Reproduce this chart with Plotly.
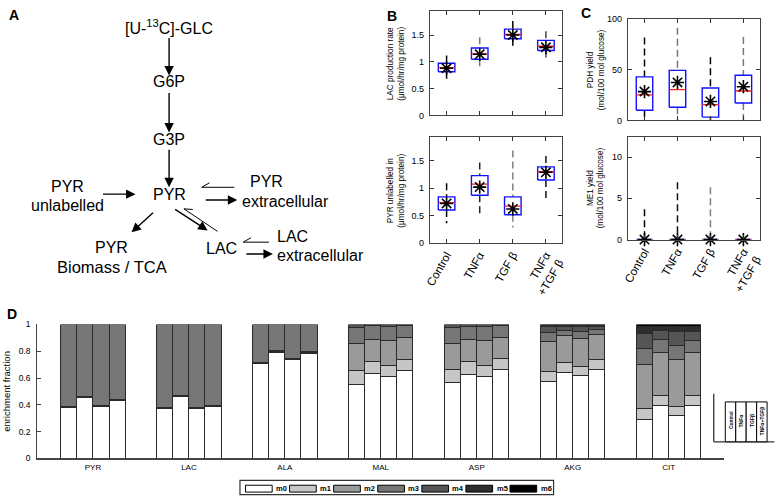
import math
import plotly.graph_objects as go

W, H = 778, 501
def px(x): return x / W
def py(y): return 1 - y / H

FONT = "Liberation Sans, Arial, sans-serif"

# ---------------- data ----------------
conditions = ["Control", "TNFα", "TGF β", "TNFα<br>+TGF β"]
cond_short = ["Control", "TNFα", "TGFβ", "TNFα+TGFβ"]

# B top: LAC production rate (umol/hr/mg protein)
lac_q1 = [0.816, 1.048, 1.43, 1.21]
lac_med = [0.89, 1.147, 1.51, 1.29]
lac_q3 = [0.974, 1.257, 1.61, 1.40]
lac_lo = [0.67, 0.91, 1.26, 1.08]
lac_hi = [1.12, 1.46, 1.76, 1.57]
lac_mean = [0.88, 1.14, 1.50, 1.27]

# B bottom: PYR unlabelled in (umol/hr/mg protein)
pyr_q1 = [0.60, 0.87, 0.515, 1.15]
pyr_med = [0.735, 1.075, 0.67, 1.30]
pyr_q3 = [0.84, 1.23, 0.84, 1.39]
pyr_lo = [0.36, 0.48, 0.28, 0.81]
pyr_hi = [1.09, 1.47, 1.69, 1.59]
pyr_mean = [0.72, 1.02, 0.62, 1.29]

# C top: PDH yield (mol/100 mol glucose)
pdh_q1 = [10.0, 12.9, 3.2, 17.0]
pdh_med = [25.1, 30.2, 15.4, 28.9]
pdh_q3 = [42.8, 49.2, 31.8, 44.4]
pdh_lo = [0.0, 0.0, 0.0, 0.0]
pdh_hi = [81.4, 91.0, 62.0, 82.0]
pdh_mean = [28.3, 37.3, 18.6, 33.1]

# C bottom: ME1 yield (mol/100 mol glucose)
me1_q1 = [0.0, 0.0, 0.0, 0.0]
me1_med = [0.0, 0.0, 0.0, 0.0]
me1_q3 = [0.0, 0.0, 0.0, 0.0]
me1_lo = [0.0, 0.0, 0.0, 0.0]
me1_hi = [3.67, 6.94, 6.35, 0.0]
me1_mean = [0.0, 0.0, 0.0, 0.0]

# D: mass isotopomer distributions (per condition: m0, m1, ...)
metabolites = ["PYR", "LAC", "ALA", "MAL", "ASP", "AKG", "CIT"]
isotopologues = ["m0", "m1", "m2", "m3", "m4", "m5", "m6"]
iso_colors = ["#ffffff", "#c6c6c6", "#9a9a9a", "#767676", "#555555", "#2e2e2e", "#000000"]

pyr_mid = [[0.383, 0.004, 0.003, 0.610],
           [0.452, 0.004, 0.003, 0.541],
           [0.385, 0.004, 0.003, 0.608],
           [0.432, 0.004, 0.003, 0.561]]
lac_mid = [[0.376, 0.003, 0.002, 0.619],
           [0.462, 0.003, 0.002, 0.533],
           [0.376, 0.003, 0.002, 0.619],
           [0.391, 0.003, 0.003, 0.603]]
ala_mid = [[0.711, 0.004, 0.003, 0.282],
           [0.790, 0.008, 0.006, 0.196],
           [0.737, 0.005, 0.004, 0.254],
           [0.782, 0.008, 0.006, 0.204]]
mal_mid = [[0.553, 0.106, 0.202, 0.116, 0.023],
           [0.631, 0.096, 0.163, 0.100, 0.010],
           [0.610, 0.085, 0.185, 0.103, 0.017],
           [0.654, 0.085, 0.164, 0.087, 0.010]]
asp_mid = [[0.568, 0.098, 0.195, 0.115, 0.024],
           [0.629, 0.098, 0.161, 0.097, 0.015],
           [0.610, 0.085, 0.185, 0.103, 0.017],
           [0.663, 0.081, 0.158, 0.092, 0.006]]
akg_mid = [[0.573, 0.074, 0.226, 0.068, 0.042, 0.017],
           [0.642, 0.078, 0.195, 0.043, 0.025, 0.017],
           [0.617, 0.066, 0.215, 0.048, 0.037, 0.017],
           [0.666, 0.071, 0.185, 0.039, 0.022, 0.017]]
cit_mid = [[0.293, 0.077, 0.328, 0.126, 0.110, 0.051, 0.015],
           [0.398, 0.073, 0.317, 0.097, 0.073, 0.030, 0.012],
           [0.320, 0.065, 0.354, 0.105, 0.102, 0.042, 0.012],
           [0.398, 0.072, 0.318, 0.090, 0.070, 0.038, 0.014]]
mids = [pyr_mid, lac_mid, ala_mid, mal_mid, asp_mid, akg_mid, cit_mid]

fig = go.Figure()

# ---------------- B / C box panels ----------------
def add_boxes(xa, ya, q1, med, q3, lo, hi, mean, wcolors):
    pos = list(range(1, len(q1) + 1))
    half = 0.25
    for i, x in enumerate(pos):
        if hi[i] > q3[i] or lo[i] < q1[i]:
            fig.add_trace(go.Scatter(
                x=[x, x, None, x, x], y=[hi[i], q3[i], None, q1[i], lo[i]],
                mode="lines", line=dict(color=wcolors[i], width=1.5, dash="7px,4px"),
                xaxis=xa, yaxis=ya, hoverinfo="skip", showlegend=False))
    bx, by, mx, my = [], [], [], []
    for i, x in enumerate(pos):
        bx += [x - half, x + half, x + half, x - half, x - half, None]
        by += [q1[i], q1[i], q3[i], q3[i], q1[i], None]
        mx += [x - half, x + half, None]
        my += [med[i], med[i], None]
    fig.add_trace(go.Scatter(x=bx, y=by, mode="lines", line=dict(color="#1010ff", width=1.4),
                             xaxis=xa, yaxis=ya, hoverinfo="skip", showlegend=False))
    fig.add_trace(go.Scatter(x=mx, y=my, mode="lines", line=dict(color="#ff2020", width=1.3),
                             xaxis=xa, yaxis=ya, hoverinfo="skip", showlegend=False))
    fig.add_trace(go.Scatter(x=pos, y=mean, mode="markers",
                             marker=dict(symbol="asterisk-open", size=11, color="black",
                                         line=dict(color="black", width=1.6)),
                             xaxis=xa, yaxis=ya, hoverinfo="skip", showlegend=False,
                             cliponaxis=False))

add_boxes("x", "y", lac_q1, lac_med, lac_q3, lac_lo, lac_hi, lac_mean,
          ["#000000", "#777777", "#000000", "#444444"])
add_boxes("x2", "y2", pyr_q1, pyr_med, pyr_q3, pyr_lo, pyr_hi, pyr_mean,
          ["#000000", "#222222", "#808080", "#111111"])
add_boxes("x3", "y3", pdh_q1, pdh_med, pdh_q3, pdh_lo, pdh_hi, pdh_mean,
          ["#000000", "#777777", "#000000", "#777777"])
add_boxes("x4", "y4", me1_q1, me1_med, me1_q3, me1_lo, me1_hi, me1_mean,
          ["#000000", "#111111", "#808080", "#808080"])

# ---------------- D stacked bars ----------------
n_cond = 4
bw = 0.1675
for k, iso in enumerate(isotopologues):
    xs, ys = [], []
    for g, mid in enumerate(mids):
        for c in range(n_cond):
            if k < len(mid[c]):
                xs.append(g + 1 + (c - (n_cond - 1) / 2) * bw)
                ys.append(mid[c][k])
    fig.add_trace(go.Bar(x=xs, y=ys, width=bw, name=iso,
                         marker=dict(color=iso_colors[k], line=dict(color="#2a2a2a", width=1)),
                         xaxis="x5", yaxis="y5", hoverinfo="skip", showlegend=False))

# ---------------- layout / axes ----------------
tickfont = dict(family=FONT, size=9, color="black")
def box_xaxis(dom, labels, anchor):
    d = dict(domain=dom, range=[0.5, 4.5], tickvals=[1, 2, 3, 4], anchor=anchor,
             ticks="inside", ticklen=4, tickcolor="#333", showline=True, mirror="ticks",
             linecolor="#444", linewidth=1.2, showgrid=False, zeroline=False,
             tickfont=dict(family=FONT, size=11.5, color="black"))
    if labels:
        d.update(ticktext=conditions, tickangle=-60, showticklabels=True)
    else:
        d.update(showticklabels=False)
    return d

def box_yaxis(dom, rng, tv, anchor):
    return dict(domain=dom, range=rng, tickvals=tv, anchor=anchor,
                ticks="inside", ticklen=4, tickcolor="#333", showline=True, mirror="ticks",
                linecolor="#444", linewidth=1.2, showgrid=False, zeroline=False,
                tickfont=tickfont, ticklabelstandoff=3)

bx_dom = [px(429), px(563)]
cx_dom = [px(629.3), px(762.7)]

fig.update_layout(
    width=W, height=H, margin=dict(l=0, r=0, t=0, b=0),
    paper_bgcolor="white", plot_bgcolor="white",
    font=dict(family=FONT, color="black"),
    barmode="stack", showlegend=False,
    xaxis=box_xaxis(bx_dom, False, "y"),
    yaxis=box_yaxis([py(112.7), py(6)], [0, 1.95], [0, 0.5, 1, 1.5], "x"),
    xaxis2=box_xaxis(bx_dom, True, "y2"),
    yaxis2=box_yaxis([py(242.7), py(135)], [0, 1.93], [0, 0.5, 1, 1.5], "x2"),
    xaxis3=box_xaxis(cx_dom, False, "y3"),
    yaxis3=box_yaxis([py(117.7), py(14)], [0, 100], [0, 50, 100], "x3"),
    xaxis4=box_xaxis(cx_dom, True, "y4"),
    yaxis4=box_yaxis([py(239.3), py(135)], [0, 12.4], [0, 5, 10], "x4"),
    xaxis5=dict(domain=[px(31.7), px(726.7)], range=[0.42, 7.58], anchor="y5",
                tickvals=list(range(1, len(metabolites) + 1)), ticktext=metabolites,
                ticks="", showline=True, linecolor="#444", linewidth=1.5,
                showgrid=False, zeroline=False,
                tickfont=dict(family=FONT, size=8, color="black")),
    yaxis5=dict(domain=[py(462.7), py(326)], range=[0, 1], anchor="x5",
                tickvals=[0, 0.2, 0.4, 0.6, 0.8, 1], ticktext=["0", "0.2", "0.4", "0.6", "0.8", "1"],
                ticks="inside", ticklen=4, tickcolor="#444", showline=True,
                linecolor="#444", linewidth=1.3, showgrid=False, zeroline=False,
                tickfont=dict(family=FONT, size=8.5, color="black"), ticklabelstandoff=4,
                title=dict(text="enrichment fraction", font=dict(family=FONT, size=9.5), standoff=6)),
)

ann = []
shapes = []

def text(x, y, t, size=16, bold=False, angle=0, xanchor="center", yanchor="middle"):
    if bold:
        t = "<b>" + t + "</b>"
    ann.append(dict(x=px(x), y=py(y), xref="paper", yref="paper", text=t, showarrow=False,
                    font=dict(family=FONT, size=size, color="black"), textangle=angle,
                    xanchor=xanchor, yanchor=yanchor))

def arrow(tail, head, width=1.4):
    ann.append(dict(x=px(head[0]), y=py(head[1]), xref="paper", yref="paper",
                    ax=tail[0] - head[0], ay=tail[1] - head[1], axref="pixel", ayref="pixel",
                    text="", showarrow=True, arrowhead=2, arrowsize=1.35, arrowwidth=width,
                    arrowcolor="black", standoff=0, startstandoff=0))

def line(p0, p1, width=1.0, color="black"):
    shapes.append(dict(type="line", xref="paper", yref="paper", x0=px(p0[0]), y0=py(p0[1]),
                       x1=px(p1[0]), y1=py(p1[1]), line=dict(color=color, width=width)))

def harpoon(tail, head, barb=9, ang=30):
    line(tail, head)
    dx, dy = tail[0] - head[0], tail[1] - head[1]
    th = math.atan2(dy, dx) - math.radians(ang)
    line(head, (head[0] + barb * math.cos(th), head[1] + barb * math.sin(th)))

# Panel letters
text(8, 10, "A", size=14, bold=True)
text(391, 11, "B", size=14, bold=True)
text(587, 8, "C", size=14, bold=True)
text(6, 315, "D", size=14, bold=True)

# Panel A diagram
text(165, 22, "[U-<sup>13</sup>C]-GLC")
text(165, 78, "G6P")
text(165, 137, "G3P")
text(165, 193, "PYR")
text(62, 185, "PYR")
text(62, 205, "unlabelled")
text(264, 180, "PYR")
text(237, 200, "extracellular", xanchor="left")
text(107, 247, "PYR")
text(107, 267, "Biomass / TCA", size=16.5)
text(218, 248, "LAC")
text(290, 236, "LAC")
text(272, 256, "extracellular", xanchor="left")

arrow((165, 33), (165, 72))
arrow((165, 89), (165, 130))
arrow((165, 147), (165, 186))
arrow((97, 193), (131, 193))
arrow((201, 199), (234, 199))
harpoon((231, 186), (198, 186))
arrow((150, 211), (127, 232))
arrow((170, 208), (204, 230))
harpoon((214, 231), (180, 208))
harpoon((266, 242), (240, 242))
arrow((242, 254), (270, 254))

# Panel B/C y labels
text(395, 59.5, "LAC production rate<br>(μmol/hr/mg protein)", size=8.2, angle=-90)
text(395, 189, "PYR unlabelled in<br>(μmol/hr/mg protein)", size=8.2, angle=-90)
text(596.5, 66, "PDH yield<br>(mol/100 mol glucose)", size=8.2, angle=-90)
text(597, 187, "ME1 yield<br>(mol/100 mol glucose)", size=8.2, angle=-90)

# Panel D isotopologue legend
shapes.append(dict(type="rect", xref="paper", yref="paper", x0=px(236.7), x1=px(554),
                   y0=py(499.5), y1=py(485), line=dict(color="#333", width=1.2), fillcolor="white"))
for k, iso in enumerate(isotopologues):
    x0 = 242.3 + k * 44.6
    shapes.append(dict(type="rect", xref="paper", yref="paper", x0=px(x0), x1=px(x0 + 27),
                       y0=py(497), y1=py(490), line=dict(color="black", width=1),
                       fillcolor=iso_colors[k]))
    text(x0 + 29, 493.5, iso, size=7.5, bold=True, xanchor="left")

# Panel D condition order inset
line((716, 396.7), (716, 445.7), width=1.3, color="#333")
line((716, 445.7), (777.3, 445.7), width=1.3, color="#333")
bw_px = (770 - 727.7) / len(cond_short)
for c, name in enumerate(cond_short):
    x0 = 727.7 + c * bw_px
    shapes.append(dict(type="rect", xref="paper", yref="paper", x0=px(x0), x1=px(x0 + bw_px),
                       y0=py(445.7), y1=py(405), line=dict(color="black", width=1),
                       fillcolor="white"))
    text(x0 + bw_px / 2, 424, name, size=5, bold=True, angle=-90)

fig.update_layout(annotations=ann, shapes=shapes)
fig.write_html("out.html", config={"displayModeBar": False},
               post_script="document.body.style.margin='0';document.body.style.overflow='hidden';")
